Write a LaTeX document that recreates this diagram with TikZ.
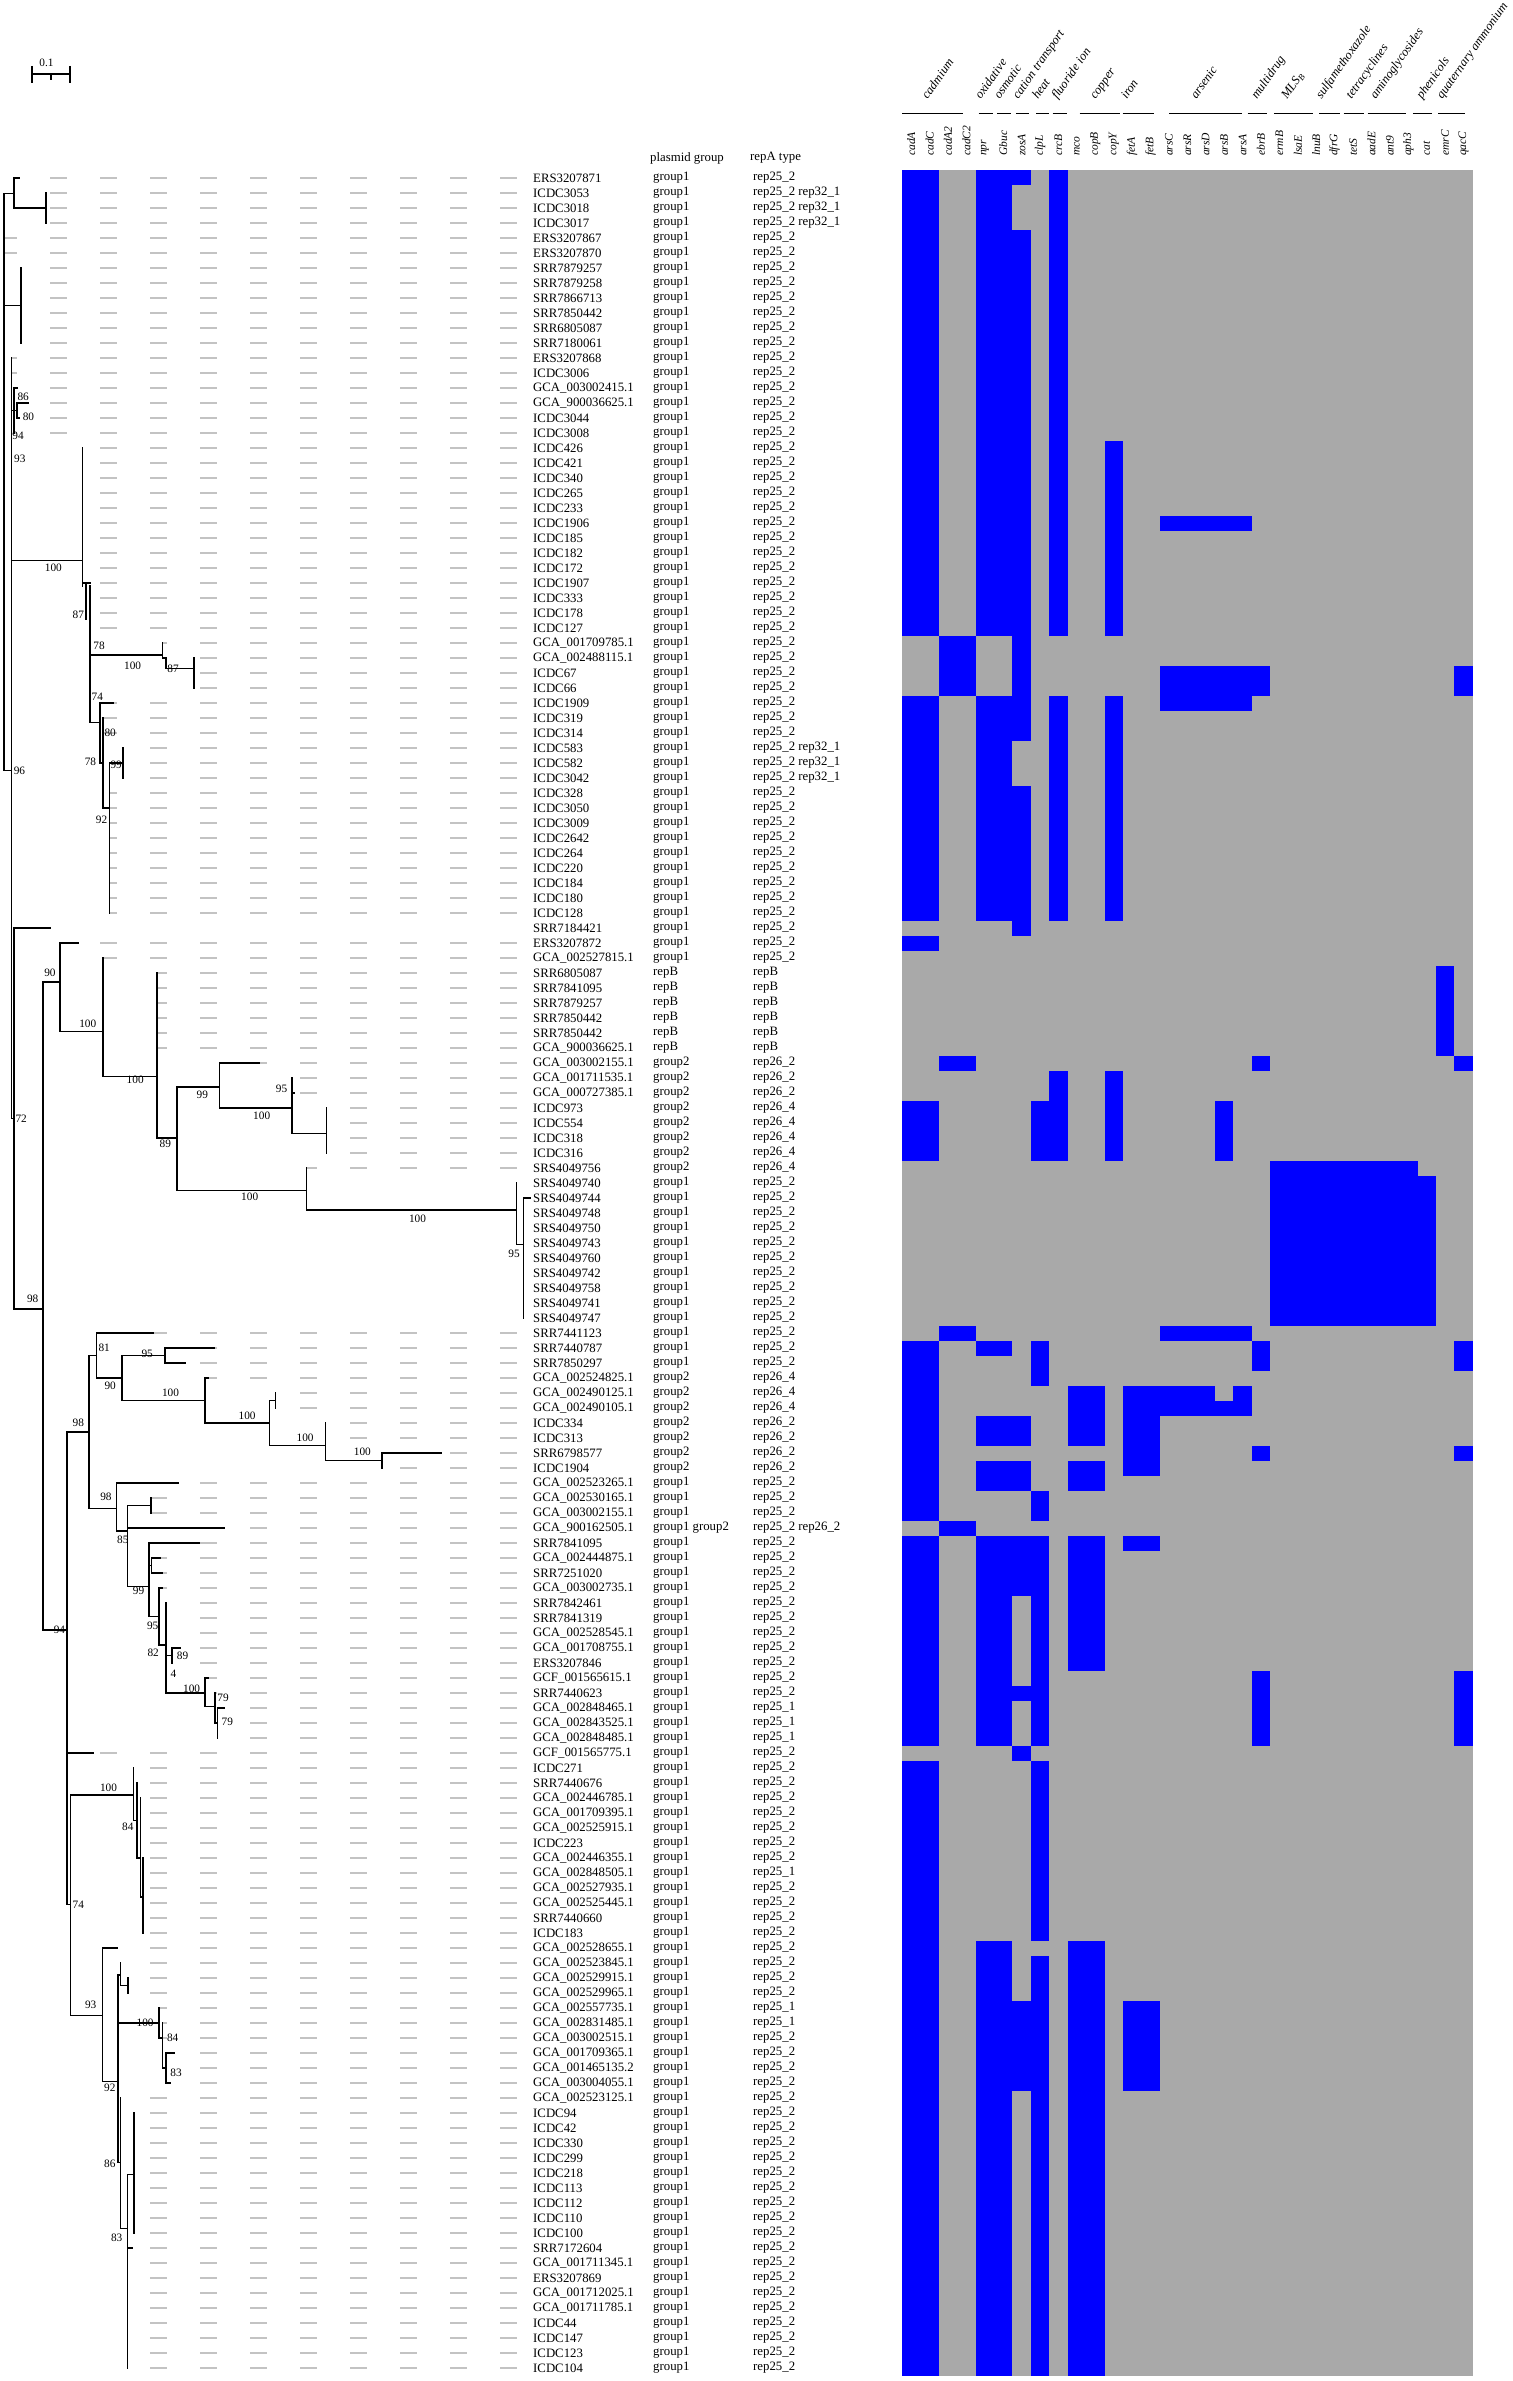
\documentclass[tikz,border=0pt]{standalone}
\usepackage{fontspec}
\setmainfont{Liberation Serif}
\definecolor{hgrey}{RGB}{169,169,169}
\definecolor{hblue}{RGB}{0,0,255}
\definecolor{ldr}{RGB}{195,195,195}
\begin{document}
\begin{tikzpicture}[x=1pt,y=-1pt,
  br/.style={line width=1.7pt, line cap=rect},
  leader/.style={draw=ldr, line width=1.3pt, dash pattern=on 17pt off 33pt},
  nm/.style={anchor=west, inner sep=0pt, font=\fontsize{12.8}{14}\selectfont},
  bs/.style={inner sep=0pt, font=\fontsize{11.3}{12}\selectfont},
  gene/.style={rotate=90, anchor=west, inner sep=0pt, font=\fontsize{11.5}{12}\selectfont\itshape},
  grp/.style={rotate=55, anchor=base west, inner sep=0pt, font=\fontsize{12.5}{13}\selectfont\itshape},
  gline/.style={line width=1.8pt}]
\fill[white] (0,0) rectangle (1512,2381);
\useasboundingbox (0,0) rectangle (1512,2381);

% scale bar
\draw[line width=1.5pt] (32,74) -- (70,74);
\draw[line width=1.5pt] (32,66) -- (32,83);
\draw[line width=1.5pt] (70,66) -- (70,83);
\draw[line width=1.2pt] (51,74) -- (51,80);
\node[bs] (scale) at (46.5,63) {0.1};

% column headers
\node[nm] (hpg) at (650,158) {plasmid group};
\node[nm] (hrep) at (750,158) {repA type};

% gene labels
\foreach \g [count=\i from 0] in {cadA,cadC,cadA2,cadC2,npr,Gbuc,zosA,clpL,crcB,mco,copB,copY,fetA,fetB,arsC,arsR,arsD,arsB,arsA,ebrB,ermB,lsaE,lnuB,dfrG,tetS,aadE,ant9,aph3,cat,emrC,qacC}
  \node[gene, name=gene\i] at ({902+18.41*(\i+0.5)},156) {\g};

% group lines
\foreach \xa/\xb [count=\i] in {902/962.6, 978.7/992.9, 996.9/1011, 1015.8/1029.1, 1036.4/1049.3, 1052.5/1067.4, 1079.5/1119.8, 1122.6/1154.1, 1169/1241.6, 1247.6/1266.9, 1273.8/1313.3, 1319.3/1339.5, 1343.5/1363.7, 1367.7/1406, 1412.8/1432.2, 1438.2/1465.2}
  \draw[gline] (\xa,113.5) -- (\xb,113.5);

% group labels
\foreach \gx/\gt [count=\i] in {927.6/cadmium, 980.8/oxidative, 999.7/osmotic, 1018.2/cation transport, 1038/heat, 1057.3/fluoride ion, 1095.6/copper, 1126.7/iron, 1196.4/arsenic, 1256.9/multidrug, 1287.1/MLS\textsubscript{B}, 1321.4/sulfamethoxazole, 1351.6/tetracyclines, 1375.8/aminoglycosides, 1422.1/phenicols, 1442.3/quaternary ammonium}
  \node[grp, name=grp\i] at (\gx,100) {\gt};

\begin{scope}[y=-15pt, yshift=-163pt]
% heatmap
\fill[hgrey] (902,0.5) rectangle (1472.7,147.5);
\foreach \ca/\cb/\ra/\rb in {0/1/1/31, 4/5/1/31, 6/6/1/1, 6/6/5/38, 8/8/1/31, 11/11/19/31, 14/18/24/24,
  2/3/32/35, 14/19/34/35, 30/30/34/35, 0/1/36/50, 4/5/36/50, 14/18/36/36, 8/8/36/50, 11/11/36/50,
  6/6/42/51, 0/1/52/52, 29/29/54/59, 2/3/60/60, 19/19/60/60, 30/30/60/60, 8/8/61/66, 11/11/61/66,
  0/1/63/66, 7/7/63/66, 17/17/63/66, 20/27/67/77, 28/28/68/77, 2/3/78/78, 14/18/78/78,
  0/1/79/90, 4/5/79/79, 7/7/79/81, 19/19/79/80, 30/30/79/80, 9/10/82/83, 12/16/82/82, 18/18/82/82,
  12/18/83/83, 4/6/84/85, 9/10/84/85, 12/13/84/87, 19/19/86/86, 30/30/86/86, 4/6/87/88, 9/10/87/88,
  7/7/89/90, 2/3/91/91, 0/1/92/105, 4/5/92/105, 6/6/92/95, 6/6/102/102, 7/7/92/105, 9/10/92/100,
  12/13/92/92, 19/19/101/105, 30/30/101/105, 6/6/106/106, 0/1/107/147, 7/7/107/118, 7/7/120/147,
  4/5/119/147, 6/6/123/128, 9/10/119/147, 12/13/123/128}
  \fill[hblue] ({902+18.41*\ca},{\ra-0.5}) rectangle ({902+18.41*(\cb+1)},{\rb+0.5});

% names and leaders
\foreach \nm/\tp [count=\rw] in {ERS3207871/19, ICDC3053/45.8, ICDC3018/45.8, ICDC3017/45.8, ERS3207867/4.1, ERS3207870/4.1, SRR7879257/21.3, SRR7879258/21.3, SRR7866713/21.3, SRR7850442/21.3, SRR6805087/21.3, SRR7180061/21.3, ERS3207868/11.4, ICDC3006/11.4, GCA\_003002415.1/17.2, GCA\_900036625.1/28.2, ICDC3044/18.9, ICDC3008/13.8, ICDC426/82.6, ICDC421/82.6, ICDC340/82.6, ICDC265/82.6, ICDC233/82.6, ICDC1906/82.6, ICDC185/82.6, ICDC182/82.6, ICDC172/82.6, ICDC1907/90.2, ICDC333/90.2, ICDC178/90.2, ICDC127/90.2, GCA\_001709785.1/162.5, GCA\_002488115.1/166.3, ICDC67/193.9, ICDC66/193.9, ICDC1909/113.6, ICDC319/103.3, ICDC314/103.3, ICDC583/123.3, ICDC582/123.3, ICDC3042/123.3, ICDC328/109.5, ICDC3050/109.5, ICDC3009/109.5, ICDC2642/109.5, ICDC264/109.5, ICDC220/109.5, ICDC184/109.5, ICDC180/109.5, ICDC128/109.5, SRR7184421/50, ERS3207872/78.5, GCA\_002527815.1/103.3, SRR6805087/156.7, SRR7841095/156.7, SRR7879257/156.7, SRR7850442/156.7, SRR7850442/156.7, GCA\_900036625.1/156.7, GCA\_003002155.1/259, GCA\_001711535.1/292, GCA\_000727385.1/294.5, ICDC973/326.4, ICDC554/326.4, ICDC318/326.4, ICDC316/326.4, SRS4049756/306.5, SRS4049740/516.5, SRS4049744/530, SRS4049748/523.4, SRS4049750/523.4, SRS4049743/523.4, SRS4049760/523.4, SRS4049742/523.4, SRS4049758/523.4, SRS4049741/523.4, SRS4049747/523.4, SRR7441123/153.2, SRR7440787/214.2, SRR7850297/184.9, GCA\_002524825.1/208.3, GCA\_002490125.1/275.5, GCA\_002490105.1/275.5, ICDC334/325.4, ICDC313/325.4, SRR6798577/440.8, ICDC1904/382.2, GCA\_002523265.1/178.4, GCA\_002530165.1/150.8, GCA\_003002155.1/150.8, GCA\_900162505.1/223.8, SRR7841095/198.7, GCA\_002444875.1/160.1, SRR7251020/162.5, GCA\_003002735.1/162.5, SRR7842461/166.3, SRR7841319/166.3, GCA\_002528545.1/166.3, GCA\_001708755.1/179.8, ERS3207846/172.2, GCF\_001565615.1/208.3, SRR7440623/215.2, GCA\_002848465.1/224.5, GCA\_002843525.1/217.6, GCA\_002848485.1/217.6, GCF\_001565775.1/93, ICDC271/133.6, SRR7440676/137, GCA\_002446785.1/140.5, GCA\_001709395.1/140.5, GCA\_002525915.1/140.5, ICDC223/140.5, GCA\_002446355.1/142.9, GCA\_002848505.1/142.9, GCA\_002527935.1/142.9, GCA\_002525445.1/142.9, SRR7440660/142.9, ICDC183/142.9, GCA\_002528655.1/117.1, GCA\_002523845.1/120.5, GCA\_002529915.1/128.1, GCA\_002529965.1/128.1, GCA\_002557735.1/159.1, GCA\_002831485.1/162.5, GCA\_003002515.1/162.5, GCA\_001709365.1/173.9, GCA\_001465135.2/166.3, GCA\_003004055.1/170.5, GCA\_002523125.1/120.5, ICDC94/134.3, ICDC42/134.3, ICDC330/134.3, ICDC299/134.3, ICDC218/134.3, ICDC113/134.3, ICDC112/134.3, ICDC110/134.3, ICDC100/134.3, SRR7172604/131.9, GCA\_001711345.1/127.4, ERS3207869/127.4, GCA\_001712025.1/127.4, GCA\_001711785.1/127.4, ICDC44/127.4, ICDC147/127.4, ICDC123/127.4, ICDC104/127.4}
{
  \node[nm, name=n\rw] at (533,\rw) {\nm};
  \ifdim\tp pt<515pt \draw[leader, dash phase=\tp pt] (\tp,\rw) -- (517,\rw); \fi
}

% plasmid group column
\foreach \ra/\rb/\tx in {1/53/group1, 54/59/repB, 60/67/group2, 68/80/group1, 81/87/group2, 88/90/group1, 91/91/group1 group2, 92/147/group1}
  {\foreach \rw in {\ra,...,\rb} \node[nm, name=g\rw] at (653,\rw) {\tx};}

% repA column
\foreach \ra/\rb/\tx in {1/1/rep25\_2, 2/4/rep25\_2 rep32\_1, 5/38/rep25\_2, 39/41/rep25\_2 rep32\_1, 42/53/rep25\_2, 54/59/repB, 60/62/rep26\_2, 63/67/rep26\_4, 68/80/rep25\_2, 81/83/rep26\_4, 84/87/rep26\_2, 88/90/rep25\_2, 91/91/rep25\_2 rep26\_2, 92/102/rep25\_2, 103/105/rep25\_1, 106/113/rep25\_2, 114/114/rep25\_1, 115/122/rep25\_2, 123/124/rep25\_1, 125/147/rep25\_2}
  {\foreach \rw in {\ra,...,\rb} \node[nm, name=p\rw] at (753,\rw) {\tx};}

% tree: horizontal branches (row/x1/x2)
\foreach \hr/\hx/\hy in {2.04/4.1/13.8, 1/13.8/19, 3/13.8/45.8, 9.5/4.1/21.3, 40.5/4.1/11.4,
  16.5/11.4/17.2, 15/13.8/17.2, 16/17.2/28.2, 17/17.2/18.9,
  26.5/11.4/82.6, 28/82.6/90.2, 32.8/90.2/162.5, 33/162.5/166.3, 33.7/166.3/193.9,
  37.3/90.2/99.9, 36/99.9/113.6, 40/99.9/103.3, 43/103.3/109.5, 40/109.5/123.3,
  63.7/11.4/13.8, 51/13.8/50, 76.4/13.8/43, 54.6/43/60.3, 52/60.3/78.5, 57.9/60.3/103.3,
  60.9/103.3/156.7, 65/156.7/177.3, 61.6/177.3/219.4, 60/219.4/259, 63/219.4/292, 62/292/294.5,
  64.7/292/326.4, 68.5/177.3/306.5, 69.8/306.5/516.5, 72.1/516.5/523.4, 69/523.4/530,
  97.8/43/67.1, 84.6/67.1/88.8, 79.5/88.8/96.4, 78/96.4/153.2, 81/96.4/122.2, 79.5/122.2/165.3,
  79/165.3/214.2, 80/165.3/184.9, 82.5/122.2/204.9, 81/204.9/208.3, 84/204.9/269.6,
  82.5/269.6/275.5, 85.5/269.6/325.4, 86.5/325.4/382.2, 86/382.2/440.8,
  89.7/88.8/116.4, 88/116.4/178.4, 91.2/116.4/127.4, 89.5/127.4/150.8, 91/127.4/223.8,
  94.9/127.4/148.8, 92/148.8/198.7, 93.5/148.8/151.5, 93/151.5/160.1, 94/151.5/162.5,
  96.9/148.8/159.1, 95/159.1/162.5, 98.8/159.1/166.3, 99.5/166.3/172.2, 99/172.2/179.8,
  102/166.3/204.9, 101/204.9/208.3, 102.9/204.9/215.2, 104/215.2/217.6, 103/217.6/224.5,
  106/67.1/93, 116.1/67.1/70.6, 108.8/70.6/133.6, 110.5/133.6/137, 113/137/140.5, 115.6/140.5/142.9,
  123.5/70.6/102.6, 119/102.6/117.1, 127.9/102.6/118.1, 120.8/118.1/120.5, 121.5/120.5/128.1,
  124/118.1/159.1, 125/159.1/162.5, 127/162.5/166.3, 126/166.3/173.9, 128/166.3/170.5,
  133.3/118.1/120.5, 137.7/120.5/127.4, 134.1/127.4/134.3, 139/127.4/131.9}
  \draw[br] (\hx,\hr) -- (\hy,\hr);

% tree: vertical connectors (x/row1/row2)
\foreach \vx/\va/\vb in {4.1/2.04/40.5, 13.8/1/3, 45.8/2/4, 21.3/7/12, 11.4/13/63.7,
  13.8/15/18, 17.2/16/17,
  82.6/19/28.2, 86.1/28/30.4, 90.2/28.2/37.3, 162.5/32/33, 166.3/33/33.7, 193.9/33/35,
  99.9/36/40, 103.3/37/43, 109.5/40/50, 123.3/39/41,
  13.8/51/76.4, 43/54.6/97.8, 60.3/52/57.9, 103.3/53/60.9, 156.7/54/65, 177.3/61.6/68.5,
  219.4/60/63, 292/61/64.7, 326.4/63/66, 306.5/67/69.8, 516.5/68/72.1, 523.4/69/77,
  67.1/84.6/116.1, 88.8/79.5/89.7, 96.4/78/81, 122.2/79.5/82.5, 165.3/79/80, 204.9/81/84,
  269.6/82.5/85.5, 275.5/82/83, 325.4/84/86.5, 382.2/86/87,
  116.4/88/91.2, 127.4/89.5/94.9, 150.8/89/90, 148.8/92/96.9, 151.5/93/94, 159.1/95/98.8,
  166.3/96/102, 172.2/99/100, 204.9/101/102.9, 215.2/102/104, 217.6/103/105,
  70.6/108.8/123.5, 133.6/107/110.5, 137/108/113, 140.5/109/115.6, 142.9/113/118,
  102.6/119/127.9, 118.1/120.8/133.3, 120.5/120/121.5, 128.1/121/122,
  159.1/123/125, 162.5/124/127, 166.3/126/128, 120.5/129/137.7, 127.4/134.1/147, 134.3/130/138}
  \draw[br] (\vx,\va) -- (\vx,\vb);

% bootstrap values
\foreach \bx/\by/\bt [count=\bi] in {23.2/15.6/86, 28.4/16.9/80, 18.1/18.2/94, 19.8/19.7/93, 53.4/27/100,
  78.3/30.1/87, 99/32.2/78, 132.6/33.5/100, 173/33.7/87, 97.3/35.6/74, 110.2/38/80, 90.4/39.9/78,
  116.2/40.1/99, 19.5/40.5/96, 101.6/43.8/92, 49.9/54/90, 87.8/57.4/100, 135.2/61.1/100,
  202.3/62.1/99, 281.5/61.7/95, 261.7/63.5/100, 21.2/63.7/72, 165.3/65.4/89, 249.7/68.9/100,
  417.5/70.4/100, 514/72.7/95, 32.7/75.7/98, 104.2/79/81, 147.2/79.4/95, 110.2/81.5/90,
  170.5/82/100, 247.1/83.5/100, 78.3/84/98, 305.1/85/100, 362.4/85.9/100, 105.9/88.9/98,
  122.8/91.8/85, 138.6/95.2/99, 152.7/97.5/95, 59.4/97.8/94, 153.2/99.3/82, 182.5/99.5/89,
  173.4/100.7/4, 191.6/101.7/100, 223/102.3/79, 227.3/103.9/79, 108.5/108.3/100, 127.8/110.9/84,
  78.3/116.1/74, 90.7/122.8/93, 145.1/124/100, 172.7/125/84, 176.1/127.3/83, 109.8/128.3/92,
  109.8/133.4/86, 116.7/138.3/83}
  \node[bs, name=b\bi] at (\bx,\by) {\bt};
\end{scope}
\end{tikzpicture}
\end{document}
